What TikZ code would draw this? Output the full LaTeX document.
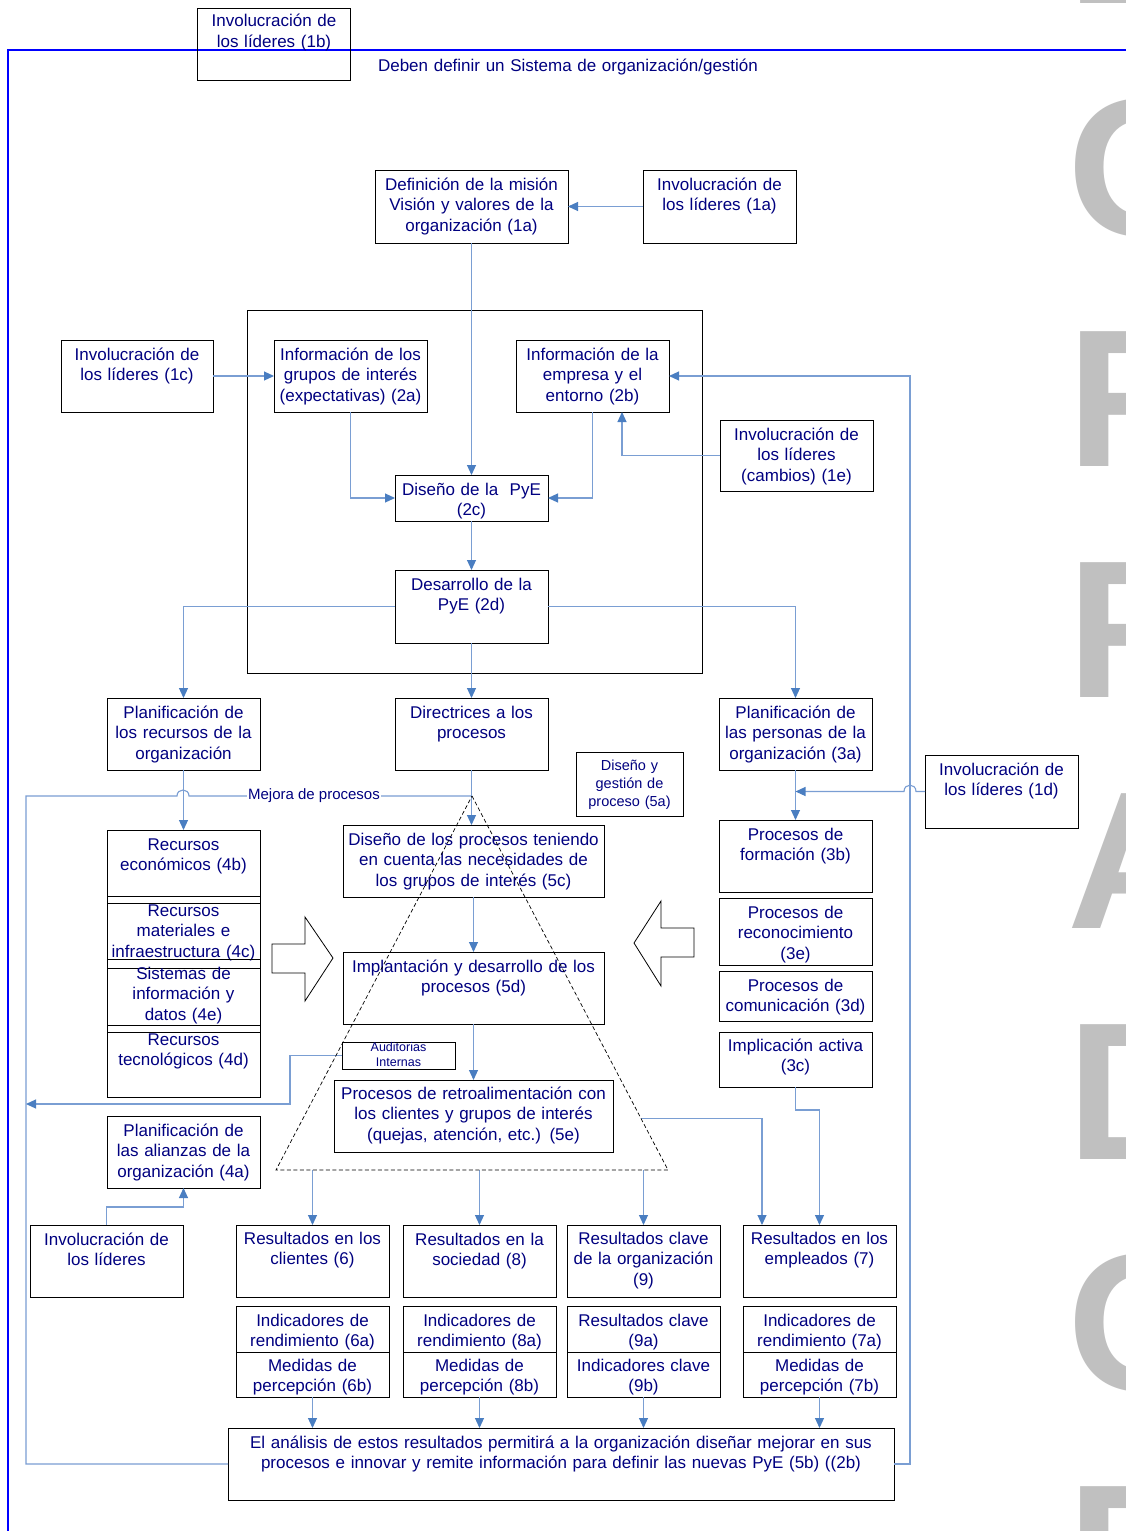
\documentclass[tikz,border=0pt]{standalone}
\usepackage{fontspec}
\setmainfont{Liberation Sans}
\usetikzlibrary{arrows.meta,calc}

\definecolor{texto}{RGB}{0,0,128}
\definecolor{conector}{RGB}{122,158,211}
\definecolor{punta}{RGB}{74,126,193}
\definecolor{marca}{RGB}{192,192,192}
\definecolor{borde}{RGB}{0,0,255}

\begin{document}
\begin{tikzpicture}[x=1pt, y=-1pt,
  every node/.style={inner sep=0pt, outer sep=0pt},
  caja/.style={draw=black, line width=0.9pt, minimum width=153pt, minimum height=72pt},
  txt/.style={anchor=base, align=center, text width=660pt, text=texto, font=\fontsize{17}{20.5}\selectfont},
  flecha/.style={draw=conector, line width=1.1pt, -{Triangle[length=10pt,width=9pt,color=punta]}},
  linea/.style={draw=conector, line width=1.1pt},
  bloque/.style={draw=black, line width=0.8pt, line join=miter},
  triangulo/.style={draw=black, line width=0.7pt, dash pattern=on 4pt off 2.5pt},
  letra/.style={anchor=base west, text=marca, font=\fontsize{196}{196}\selectfont\bfseries}]

\useasboundingbox (0,0) rectangle (1126,1531);
\fill[white] (0,0) rectangle (1126,1531);

% marca de agua
\foreach \l [count=\i from 0] in {B,O,R,R,A,D,O,R}
  \node[letra] (marca\i) at (1067,4+231*\i) {\l};

% sistema de gestion
\draw[draw=borde, line width=2pt] (8,1531) -- (8,50) -- (1126,50);
\node[caja, label={[txt,yshift=-19pt]north:{Involucración de\\los líderes (1b)}}] (inv1b) at (274,44) {};
\node[txt] (titulo) at (568,71) {Deben definir un Sistema de organización/gestión};

% mision y PyE
\node[caja, minimum width=193pt, minimum height=73pt, label={[txt,yshift=-20pt]north:{Definición de la misión\\Visión y valores de la\\organización (1a)}}] (def1a) at (471.5,206.5) {};
\node[caja, minimum height=73pt, label={[txt,yshift=-20pt]north:{Involucración de\\los líderes (1a)}}] (inv1a) at (719.5,206.5) {};
\node[draw=black, line width=0.9pt, minimum width=455pt, minimum height=363pt] (marcoPyE) at (474.5,491.5) {};
\node[caja, minimum width=152pt, label={[txt,yshift=-20pt]north:{Involucración de\\los líderes (1c)}}] (inv1c) at (137,376) {};
\node[caja, label={[txt,yshift=-20pt]north:{Información de los\\grupos de interés\\(expectativas) (2a)}}] (info2a) at (350.5,376) {};
\node[caja, label={[txt,yshift=-20pt]north:{Información de la\\empresa y el\\entorno (2b)}}] (info2b) at (592.5,376) {};
\node[caja, minimum height=71pt, label={[txt,yshift=-20pt]north:{Involucración de\\los líderes\\(cambios) (1e)}}] (inv1e) at (796.5,455.5) {};
\node[caja, minimum height=46pt, label={[txt,yshift=-20pt]north:{Diseño de la\ \ PyE\\(2c)}}] (dis2c) at (471.5,498) {};
\node[caja, minimum height=73pt, label={[txt,yshift=-20pt]north:{Desarrollo de la\\PyE (2d)}}] (des2d) at (471.5,606.5) {};

% planificacion
\node[caja, label={[txt,yshift=-20pt]north:{Planificación de\\los recursos de la\\organización}}] (planrec) at (183.5,734) {};
\node[caja, label={[txt,yshift=-20pt]north:{Directrices a los\\procesos}}] (directr) at (471.5,734) {};
\node[caja, label={[txt,yshift=-20pt]north:{Planificación de\\las personas de la\\organización (3a)}}] (plan3a) at (795.5,734) {};
\node[caja, minimum width=107pt, minimum height=64pt, label={[txt,yshift=-18pt,font=\fontsize{14.5}{18}\selectfont]north:{Diseño y\\gestión de\\proceso (5a)}}] (dis5a) at (629.5,784) {};
\node[caja, minimum height=73pt, label={[txt,yshift=-20pt]north:{Involucración de\\los líderes (1d)}}] (inv1d) at (1001.5,791.5) {};

% recursos
\node[caja, minimum height=73pt, label={[txt,yshift=-20pt]north:{Recursos\\económicos (4b)}}] (rec4b) at (183.5,866.5) {};
\node[caja, label={[txt,yshift=-20pt]north:{Recursos\\materiales e\\infraestructura (4c)}}] (rec4c) at (183.5,932) {};
\node[caja, minimum height=73pt, label={[txt,yshift=-20pt]north:{Sistemas de\\información y\\datos (4e)}}] (sis4e) at (183.5,995.5) {};
\node[caja, label={[txt,yshift=-20pt]north:{Recursos\\tecnológicos (4d)}}] (rec4d) at (183.5,1061) {};
\node[caja, label={[txt,yshift=-20pt]north:{Planificación de\\las alianzas de la\\organización (4a)}}] (plan4a) at (183.5,1152) {};
\node[caja, label={[txt,yshift=-20pt]north:{Involucración de\\los líderes}}] (invlid) at (106.5,1261) {};

% procesos
\node[caja, minimum width=261pt, label={[txt,yshift=-20pt]north:{Diseño de los procesos teniendo\\en cuenta las necesidades de\\los grupos de interés (5c)}}] (dis5c) at (473.5,861) {};
\node[caja, minimum width=261pt, label={[txt,yshift=-20pt]north:{Implantación y desarrollo de los\\procesos (5d)}}] (imp5d) at (473.5,988) {};
\node[caja, minimum width=113pt, minimum height=27pt, label={[txt,yshift=-9.5pt,font=\fontsize{12.5}{15}\selectfont]north:{Auditorias\\Internas}}] (audit) at (398.5,1055.5) {};
\node[caja, minimum width=279pt, label={[txt,yshift=-19pt]north:{Procesos de retroalimentación con\\los clientes y grupos de interés\\(quejas, atención, etc.) (5e)}}] (ret5e) at (473.5,1116) {};

% personas
\node[caja, label={[txt,yshift=-20pt]north:{Procesos de\\formación (3b)}}] (proc3b) at (795.5,856) {};
\node[caja, minimum height=67pt, label={[txt,yshift=-20pt]north:{Procesos de\\reconocimiento\\(3e)}}] (proc3e) at (795.5,931.5) {};
\node[caja, minimum height=50pt, label={[txt,yshift=-20pt]north:{Procesos de\\comunicación (3d)}}] (proc3d) at (795.5,996) {};
\node[caja, minimum height=55pt, label={[txt,yshift=-19pt]north:{Implicación activa\\(3c)}}] (impl3c) at (795.5,1059.5) {};

% resultados
\node[caja, label={[txt,yshift=-19pt]north:{Resultados en los\\clientes (6)}}] (res6) at (312.5,1261) {};
\node[caja, label={[txt,yshift=-20pt]north:{Resultados en la\\sociedad (8)}}] (res8) at (479.5,1261) {};
\node[caja, label={[txt,yshift=-19pt]north:{Resultados clave\\de la organización\\(9)}}] (res9) at (643.5,1261) {};
\node[caja, label={[txt,yshift=-19pt]north:{Resultados en los\\empleados (7)}}] (res7) at (819.5,1261) {};
\node[caja, minimum height=46pt, label={[txt,yshift=-20pt]north:{Indicadores de\\rendimiento (6a)}}] (ind6a) at (312.5,1329) {};
\node[caja, minimum height=45pt, label={[txt,yshift=-19pt]north:{Medidas de\\percepción (6b)}}] (med6b) at (312.5,1374.5) {};
\node[caja, minimum height=46pt, label={[txt,yshift=-20pt]north:{Indicadores de\\rendimiento (8a)}}] (ind8a) at (479.5,1329) {};
\node[caja, minimum height=45pt, label={[txt,yshift=-19pt]north:{Medidas de\\percepción (8b)}}] (med8b) at (479.5,1374.5) {};
\node[caja, minimum height=46pt, label={[txt,yshift=-20pt]north:{Resultados clave\\(9a)}}] (cla9a) at (643.5,1329) {};
\node[caja, minimum height=45pt, label={[txt,yshift=-19pt]north:{Indicadores clave\\(9b)}}] (ind9b) at (643.5,1374.5) {};
\node[caja, minimum height=46pt, label={[txt,yshift=-20pt]north:{Indicadores de\\rendimiento (7a)}}] (ind7a) at (819.5,1329) {};
\node[caja, minimum height=45pt, label={[txt,yshift=-19pt]north:{Medidas de\\percepción (7b)}}] (med7b) at (819.5,1374.5) {};
\node[caja, minimum width=666pt, label={[txt,yshift=-20pt]north:{El análisis de estos resultados permitirá a la organización diseñar mejorar en sus\\procesos e innovar y remite información para definir las nuevas PyE (5b) ((2b)}}] (analisis) at (561,1464) {};

% puntos de paso
\coordinate (apice) at (472,796);
\coordinate (baseI) at (276,1170);
\coordinate (baseD) at (668,1170);
\coordinate (mejoraL) at (26,796);
\coordinate (retorno) at (26,1104);
\coordinate (lazoD) at (910,900);
\coordinate (ladoD) at ($(apice)!0.863!(baseD)$);

% conectores
\draw[flecha] (inv1a.west) -- (def1a.east);
\draw[flecha] (def1a.south) -- (dis2c.north);
\draw[flecha] (inv1c.east) -- (info2a.west);
\draw[flecha] (info2a.south) |- (dis2c.west);
\draw[flecha] (info2b.south) |- (dis2c.east);
\draw[flecha] (inv1e.west) -| ([xshift=29.5pt]info2b.south);
\draw[flecha] (dis2c.south) -- (des2d.north);
\draw[flecha] (des2d.west) -| (planrec.north);
\draw[flecha] (des2d.east) -| (plan3a.north);
\draw[flecha] (des2d.south) -- (directr.north);
\draw[flecha] (plan3a.south) -- (proc3b.north);
\draw[flecha] (analisis.east) -| (lazoD) |- (info2b.east);
\draw[flecha] (inv1d.west) -- (916,791.5) .. controls (916,783) and (904,783) .. (904,791.5) -- (plan3a.south |- inv1d.west);
\draw[linea] (analisis.west) -| (mejoraL) -- (177,796) .. controls (177,788) and (189,788) .. (189,796) -- (apice);
\node[fill=white, inner xsep=1pt, text=texto, font=\fontsize{15}{18}\selectfont] (mejora) at (314,796) {Mejora de procesos};
\draw[flecha] (directr.south) -- (directr.south |- dis5c.north);
\draw[flecha] (planrec.south) -- (rec4b.north);
\draw[flecha] (dis5c.south) -- (imp5d.north);
\draw[flecha] (imp5d.south) -- (ret5e.north);
\draw[flecha] (audit.west) -| (290,1080) |- (retorno);
\draw[flecha] (invlid.north) -- ++(0,-18) -| (plan4a.south);
\draw[flecha] (res6.north |- baseI) -- (res6.north);
\draw[flecha] (res8.north |- baseI) -- (res8.north);
\draw[flecha] (res9.north |- baseI) -- (res9.north);
\draw[flecha] (ladoD) -| ([xshift=-57.5pt]res7.north);
\draw[flecha] (impl3c.south) -- ++(0,23) -| (res7.north);
\draw[flecha] (med6b.south) -- (med6b.south |- analisis.north);
\draw[flecha] (med8b.south) -- (med8b.south |- analisis.north);
\draw[flecha] (ind9b.south) -- (ind9b.south |- analisis.north);
\draw[flecha] (med7b.south) -- (med7b.south |- analisis.north);

% triangulo y flechas de bloque
\draw[triangulo] (apice) -- (baseD) -- (baseI) -- cycle;
\draw[bloque] (272,944) -- (305,944) -- (305,917) -- (333,958) -- (305,1001) -- (305,973) -- (272,973) -- cycle;
\draw[bloque] (694,928) -- (661,928) -- (661,901) -- (634,943) -- (661,986) -- (661,957) -- (694,957) -- cycle;
\end{tikzpicture}
\end{document}
